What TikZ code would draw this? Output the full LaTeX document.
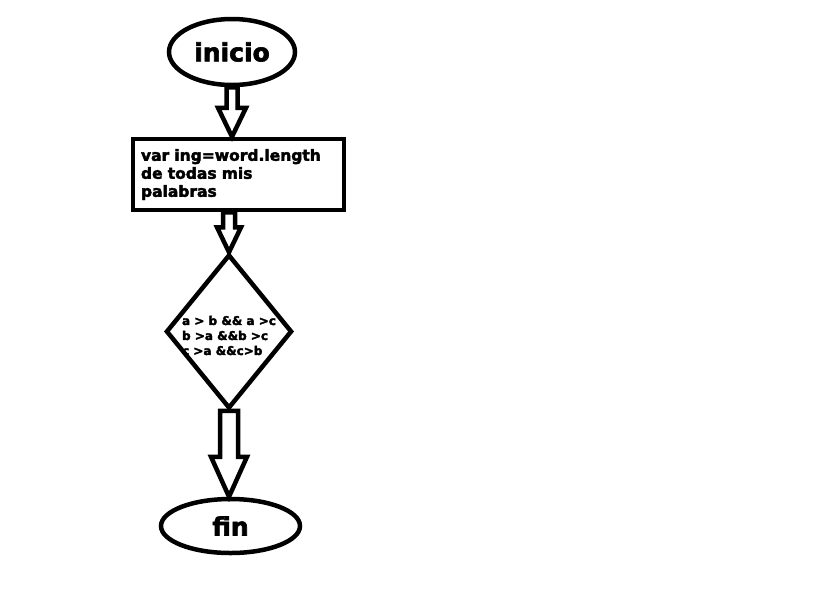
\documentclass[tikz,border=0pt]{standalone}
\usepackage{fontspec}
\setmainfont{DejaVu Sans}
\newfontfamily\heavyfont[FakeBold=2.6]{DejaVu Sans Bold}
\usetikzlibrary{shapes.geometric,calc}

\tikzset{
  terminal/.style={draw, ellipse, line width=4.5pt, inner sep=0pt, font=\heavyfont\fontsize{25}{28}\selectfont},
  process/.style={draw, rectangle, line width=4.5pt, minimum width=211pt, minimum height=71pt,
    text width=195pt, inner sep=8pt, align=left, font=\heavyfont\fontsize{15.5}{18}\selectfont},
  decision/.style={draw, diamond, line width=4.5pt, minimum width=126pt, minimum height=154pt, inner sep=0pt},
  condtext/.style={align=left, inner sep=0pt, font=\heavyfont\fontsize{12}{15}\selectfont},
  blockarrow/.style={line width=4.5pt, fill=white},
}

% from, to, shaft half width, head half width, head length
\newcommand{\blockarrow}[5]{%
  \draw[blockarrow] let \p1=(#1), \p2=(#2) in
    (\x2-#3,\y1) -- (\x2-#3,\y2+#5) -- (\x2-#4,\y2+#5) -- (\x2,\y2)
    -- (\x2+#4,\y2+#5) -- (\x2+#3,\y2+#5) -- (\x2+#3,\y1) -- cycle;}

\begin{document}
\begin{tikzpicture}[x=1pt,y=-1pt]
\useasboundingbox (0,0) rectangle (819,590);

\node[terminal, minimum width=126pt, minimum height=66pt] (inicio) at (232,52) {inicio};
\node[process] (palabras) at (238.5,174.5) {var ing=word.length\\ de todas mis\\ palabras};
\node[decision] (cond) at (229,331.5) {};
\node[condtext, yshift=-4pt] (condtxt) at (cond.center) {a > b \&\& a >c\\ b >a \&\&b >c\\ c >a \&\&c>b};
\node[terminal, minimum width=139pt, minimum height=54pt] (fin) at (230.5,526) {fin};

\blockarrow{inicio.south}{inicio.south |- palabras.north}{5.5pt}{14pt}{29pt}
\blockarrow{cond.north |- palabras.south}{cond.north}{6pt}{12pt}{25pt}
\blockarrow{cond.south}{cond.south |- fin.north}{9pt}{18pt}{40pt}

\end{tikzpicture}
\end{document}
